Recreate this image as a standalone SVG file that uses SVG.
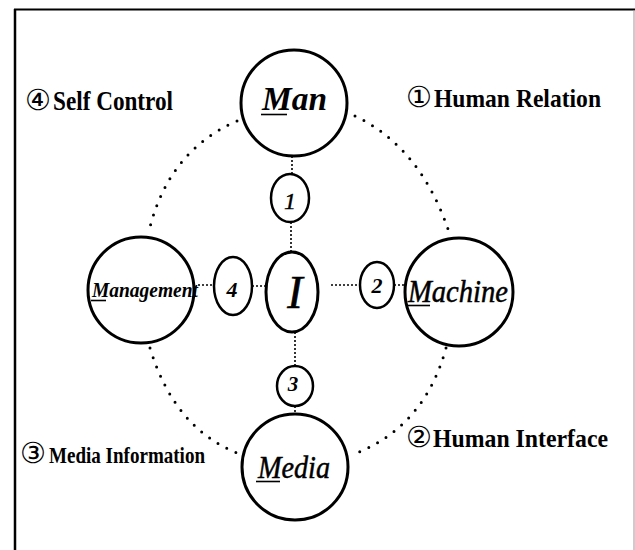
<svg xmlns="http://www.w3.org/2000/svg" width="635" height="550" viewBox="0 0 635 550">
<style>
.node{fill:#fff;stroke:#000;stroke-width:3}
.small{fill:#fff;stroke:#000;stroke-width:2.5}
.fine{fill:none;stroke:#000;stroke-width:1.6;stroke-dasharray:2 2}
.dots{fill:none;stroke:#000;stroke-width:3;stroke-linecap:round;stroke-dasharray:0 10}
.lbl{font-family:"Liberation Serif","DejaVu Serif",serif;font-weight:bold;fill:#000}
.circ{font-family:"DejaVu Sans",sans-serif;font-weight:normal}
.nm{font-family:"Liberation Serif","DejaVu Serif",serif;font-style:italic;fill:#000}
.ul{stroke:#000;stroke-width:1.6}
</style>
<rect width="635" height="550" fill="#fff"/>
<g id="frame">
<line x1="15" y1="9" x2="15" y2="550" stroke="#000" stroke-width="2.5"/>
<line x1="14" y1="9.5" x2="635" y2="9.5" stroke="#000" stroke-width="2"/>
<line x1="634" y1="10" x2="634" y2="550" stroke="#999" stroke-width="1"/>
</g>
<g id="connectors">
<path class="dots" d="M237,121 Q170,150 150,227"/>
<path class="dots" d="M355,116 Q422,148 450,235"/>
<path class="dots" d="M150,348 Q175,430 240,454"/>
<path class="dots" d="M446,348 Q425,425 357,453"/>
<path class="fine" d="M292,156 V174"/>
<path class="fine" d="M291,222 V252"/>
<path class="fine" d="M295,332 V366"/>
<path class="fine" d="M295,406 V414"/>
<path class="fine" d="M198,285 H214"/>
<path class="fine" d="M252,286 H266"/>
<path class="fine" d="M331,285 H360"/>
<path class="fine" d="M394,285 H405"/>
</g>
<g id="man">
<circle class="node" cx="294" cy="103" r="53"/>
<text class="nm" x="262" y="110" font-size="34" font-weight="bold" textLength="65" lengthAdjust="spacingAndGlyphs">Man</text>
<line class="ul" x1="261" y1="114.5" x2="287" y2="114.5"/>
</g>
<g id="management">
<circle class="node" cx="141" cy="290" r="53"/>
<text class="nm" x="92" y="297" font-size="22" font-weight="bold" textLength="106" lengthAdjust="spacingAndGlyphs">Management</text>
<line class="ul" x1="91" y1="300.5" x2="106" y2="300.5"/>
</g>
<g id="machine">
<circle class="node" cx="459" cy="292" r="54"/>
<text class="nm" x="408" y="302" font-size="32" textLength="100" lengthAdjust="spacingAndGlyphs" stroke="#000" stroke-width="0.5">Machine</text>
<line class="ul" x1="406" y1="305.5" x2="430" y2="305.5"/>
</g>
<g id="media">
<circle class="node" cx="295" cy="467" r="53"/>
<text class="nm" x="258" y="478" font-size="32" textLength="72" lengthAdjust="spacingAndGlyphs" stroke="#000" stroke-width="0.5">Media</text>
<line class="ul" x1="256" y1="481.5" x2="280" y2="481.5"/>
</g>
<g id="i">
<ellipse class="node" cx="292" cy="292" rx="26" ry="40"/>
<text class="nm" x="295" y="308" font-size="46" text-anchor="middle" stroke="#000" stroke-width="0.6">I</text>
</g>
<g id="n1">
<ellipse class="small" cx="290" cy="198" rx="19" ry="24"/>
<text class="nm" x="290" y="209" font-size="24" text-anchor="middle" stroke="#000" stroke-width="0.4">1</text>
</g>
<g id="n4">
<ellipse class="small" cx="233" cy="286" rx="19" ry="29"/>
<text class="nm" x="232" y="297" font-size="22" font-weight="bold" text-anchor="middle">4</text>
</g>
<g id="n2">
<ellipse class="small" cx="377" cy="285" rx="17" ry="23"/>
<text class="nm" x="377" y="293" font-size="22" font-weight="bold" text-anchor="middle">2</text>
</g>
<g id="n3">
<ellipse class="small" cx="295" cy="386" rx="18" ry="20"/>
<text class="nm" x="293" y="391" font-size="21" font-weight="bold" text-anchor="middle">3</text>
</g>
<g id="labels">
<text class="lbl" font-size="28" y="110"><tspan class="circ" x="25" font-size="29">④</tspan><tspan x="53" textLength="120" lengthAdjust="spacingAndGlyphs">Self Control</tspan></text>
<text class="lbl" font-size="26" y="107"><tspan class="circ" x="406" font-size="29">①</tspan><tspan x="434" textLength="167" lengthAdjust="spacingAndGlyphs">Human Relation</tspan></text>
<text class="lbl" font-size="23" y="463"><tspan class="circ" x="20" font-size="29">③</tspan><tspan x="49" textLength="156" lengthAdjust="spacingAndGlyphs">Media Information</tspan></text>
<text class="lbl" font-size="26" y="447"><tspan class="circ" x="406" font-size="29">②</tspan><tspan x="433" textLength="175" lengthAdjust="spacingAndGlyphs">Human Interface</tspan></text>
</g>
</svg>
